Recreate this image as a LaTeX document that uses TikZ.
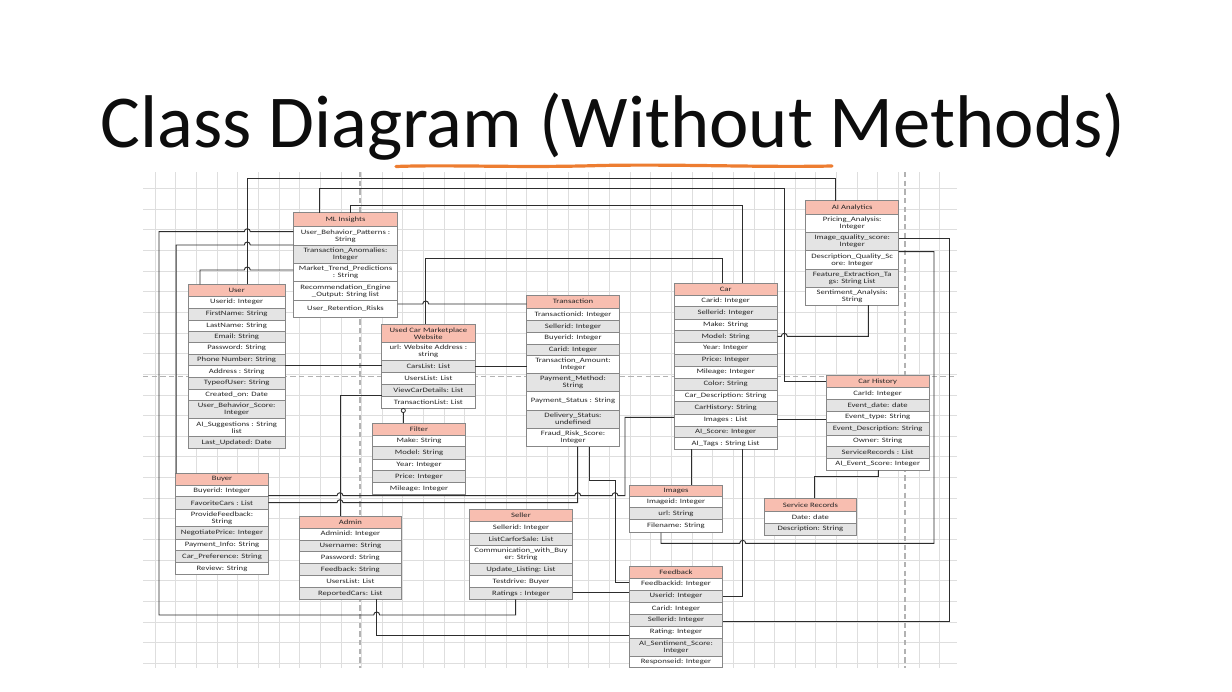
\documentclass[tikz,border=0pt]{standalone}
\usepackage{fontspec}
\setmainfont{Carlito}
\newfontfamily\boxfont[FakeStretch=1.3]{Carlito}
\definecolor{hdr}{RGB}{248,190,176}
\definecolor{grow}{RGB}{228,228,228}
\definecolor{bord}{RGB}{135,135,135}
\definecolor{ln}{RGB}{45,45,45}
\definecolor{gridc}{RGB}{222,222,222}
\definecolor{orng}{RGB}{237,125,49}
\tikzset{
  rowbox/.style={draw=bord,line width=0.45pt,inner sep=0pt,outer sep=0pt,align=center,
    font=\boxfont\fontsize{5}{5.3}\selectfont,text=black!85},
  conn/.style={draw=ln,line width=0.7pt},
  gridline/.style={draw=gridc,line width=0.5pt},
  pagebreak/.style={draw=black!30,line width=0.8pt,dash pattern=on 4pt off 2.5pt},
}
\newcommand{\rw}[7]{\node[rowbox,fill=#6,minimum width={(#3-#2)*0.75pt},minimum height={(#5-#4)*0.75pt}] (#1) at ({(#2+#3)/2},{(#4+#5)/2}) {#7};}
\begin{document}
\begin{tikzpicture}[x=0.75pt,y=-0.75pt]
\fill[white] (0,0) rectangle (1232,692);
\useasboundingbox (0,0) rectangle (1232,692);
% title
\node[font=\fontsize{56}{60}\selectfont,anchor=base,inner sep=0pt,text=black!95] (title) at (613,147) {Class Diagram (Without Methods)};
\draw[orng,line width=2.4pt,line cap=round] (396,166.5) .. controls (450,164.5) and (520,168) .. (600,165.5) .. controls (680,164) and (760,167.5) .. (832,166);
% grid
\begin{scope}
\clip (143,172) rectangle (957,668);
\foreach \k in {0,...,38} \draw[gridline] ({155+20.65*\k},172) -- ({155+20.65*\k},668);
\foreach \k in {0,...,24} \draw[gridline] (143,{663.3-20.65*\k}) -- (957,{663.3-20.65*\k});
\end{scope}
\draw[pagebreak] (360,172) -- (360,668);
\draw[pagebreak] (905,172) -- (905,668);
\draw[pagebreak] (143,376.5) -- (957,376.5);

% ML Insights
\def\xa{293.3}\def\xb{397.7}
\rw{mli}{\xa}{\xb}{212.7}{226.7}{hdr}{ML Insights}
\rw{mli1}{\xa}{\xb}{226.7}{245.3}{white}{User\_Behavior\_Patterns :\\String}
\rw{mli2}{\xa}{\xb}{245.3}{263.3}{grow}{Transaction\_Anomalies:\\Integer}
\rw{mli3}{\xa}{\xb}{263.3}{281.7}{white}{Market\_Trend\_Predictions\\: String}
\rw{mli4}{\xa}{\xb}{281.7}{300}{white}{Recommendation\_Engine\\\_Output: String list}
\rw{mli5}{\xa}{\xb}{300}{317.7}{white}{User\_Retention\_Risks}
% User
\def\xa{188.3}\def\xb{285}
\rw{usr}{\xa}{\xb}{284.3}{296}{hdr}{User}
\rw{usr1}{\xa}{\xb}{296}{308}{white}{Userid: Integer}
\rw{usr2}{\xa}{\xb}{308}{320}{grow}{FirstName: String}
\rw{usr3}{\xa}{\xb}{320}{331.7}{white}{LastName: String}
\rw{usr4}{\xa}{\xb}{331.7}{342.3}{grow}{Email: String}
\rw{usr5}{\xa}{\xb}{342.3}{354}{white}{Password: String}
\rw{usr6}{\xa}{\xb}{354}{365.7}{grow}{Phone Number: String}
\rw{usr7}{\xa}{\xb}{365.7}{377.3}{white}{Address : String}
\rw{usr8}{\xa}{\xb}{377.3}{389}{grow}{TypeofUser: String}
\rw{usr9}{\xa}{\xb}{389}{400.7}{white}{Created\_on: Date}
\rw{usr10}{\xa}{\xb}{400.7}{418.3}{grow}{User\_Behavior\_Score:\\Integer}
\rw{usr11}{\xa}{\xb}{418.3}{436.7}{white}{AI\_Suggestions : String\\list}
\rw{usr12}{\xa}{\xb}{436.7}{448.3}{grow}{Last\_Updated: Date}
% Website
\def\xa{381.7}\def\xb{475}
\rw{web}{\xa}{\xb}{324.3}{342.3}{hdr}{Used Car Marketplace\\Website}
\rw{web1}{\xa}{\xb}{342.3}{360.7}{white}{url: Website Address :\\string}
\rw{web2}{\xa}{\xb}{360.7}{372.7}{grow}{CarsList: List}
\rw{web3}{\xa}{\xb}{372.7}{384.3}{white}{UsersList: List}
\rw{web4}{\xa}{\xb}{384.3}{396}{grow}{ViewCarDetails: List}
\rw{web5}{\xa}{\xb}{396}{408.3}{white}{TransactionList: List}
% Filter
\def\xa{372.3}\def\xb{465.7}
\rw{flt}{\xa}{\xb}{423.3}{435}{hdr}{Filter}
\rw{flt1}{\xa}{\xb}{435}{446.7}{white}{Make: String}
\rw{flt2}{\xa}{\xb}{446.7}{459}{grow}{Model: String}
\rw{flt3}{\xa}{\xb}{459}{470.7}{white}{Year: Integer}
\rw{flt4}{\xa}{\xb}{470.7}{482.7}{grow}{Price: Integer}
\rw{flt5}{\xa}{\xb}{482.7}{494.3}{white}{Mileage: Integer}
% Transaction
\def\xa{526.7}\def\xb{619.3}
\rw{trn}{\xa}{\xb}{295}{308.3}{hdr}{Transaction}
\rw{trn1}{\xa}{\xb}{308.3}{320.7}{white}{Transactionid: Integer}
\rw{trn2}{\xa}{\xb}{320.7}{332.3}{grow}{Sellerid: Integer}
\rw{trn3}{\xa}{\xb}{332.3}{344}{white}{Buyerid: Integer}
\rw{trn4}{\xa}{\xb}{344}{355}{grow}{Carid: Integer}
\rw{trn5}{\xa}{\xb}{355}{373.3}{white}{Transaction\_Amount:\\Integer}
\rw{trn6}{\xa}{\xb}{373.3}{391.7}{grow}{Payment\_Method:\\String}
\rw{trn7}{\xa}{\xb}{391.7}{410}{white}{Payment\_Status : String}
\rw{trn8}{\xa}{\xb}{410}{428.3}{grow}{Delivery\_Status:\\undefined}
\rw{trn9}{\xa}{\xb}{428.3}{446.7}{white}{Fraud\_Risk\_Score:\\Integer}
% Car
\def\xa{674}\def\xb{777.3}
\rw{car}{\xa}{\xb}{283.3}{295}{hdr}{Car}
\rw{car1}{\xa}{\xb}{295}{306.7}{white}{Carid: Integer}
\rw{car2}{\xa}{\xb}{306.7}{319}{grow}{Sellerid: Integer}
\rw{car3}{\xa}{\xb}{319}{330.7}{white}{Make: String}
\rw{car4}{\xa}{\xb}{330.7}{342.3}{grow}{Model: String}
\rw{car5}{\xa}{\xb}{342.3}{354}{white}{Year: Integer}
\rw{car6}{\xa}{\xb}{354}{366}{grow}{Price: Integer}
\rw{car7}{\xa}{\xb}{366}{378.3}{white}{Mileage: Integer}
\rw{car8}{\xa}{\xb}{378.3}{390}{grow}{Color: String}
\rw{car9}{\xa}{\xb}{390}{401.7}{white}{Car\_Description: String}
\rw{car10}{\xa}{\xb}{401.7}{414}{grow}{CarHistory: String}
\rw{car11}{\xa}{\xb}{414}{426}{white}{Images : List}
\rw{car12}{\xa}{\xb}{426}{437.7}{grow}{AI\_Score: Integer}
\rw{car13}{\xa}{\xb}{437.7}{449.3}{white}{AI\_Tags : String List}
% AI Analytics
\def\xa{805.7}\def\xb{898.7}
\rw{aia}{\xa}{\xb}{200.7}{214}{hdr}{AI Analytics}
\rw{aia1}{\xa}{\xb}{214}{232.3}{white}{Pricing\_Analysis:\\Integer}
\rw{aia2}{\xa}{\xb}{232.3}{250.7}{grow}{Image\_quality\_score:\\Integer}
\rw{aia3}{\xa}{\xb}{250.7}{269}{white}{Description\_Quality\_Sc\\ore: Integer}
\rw{aia4}{\xa}{\xb}{269}{287.3}{grow}{Feature\_Extraction\_Ta\\gs: String List}
\rw{aia5}{\xa}{\xb}{287.3}{305}{white}{Sentiment\_Analysis:\\String}
% Car History
\def\xa{826}\def\xb{929.3}
\rw{chs}{\xa}{\xb}{375.7}{387.3}{hdr}{Car History}
\rw{chs1}{\xa}{\xb}{387.3}{399.3}{white}{CarId: Integer}
\rw{chs2}{\xa}{\xb}{399.3}{411}{grow}{Event\_date: date}
\rw{chs3}{\xa}{\xb}{411}{422.7}{white}{Event\_type: String}
\rw{chs4}{\xa}{\xb}{422.7}{435}{grow}{Event\_Description: String}
\rw{chs5}{\xa}{\xb}{435}{446.7}{white}{Owner: String}
\rw{chs6}{\xa}{\xb}{446.7}{458.3}{grow}{ServiceRecords : List}
\rw{chs7}{\xa}{\xb}{458.3}{470}{white}{AI\_Event\_Score: Integer}
% Images
\def\xa{629.3}\def\xb{722.7}
\rw{img}{\xa}{\xb}{485}{496}{hdr}{Images}
\rw{img1}{\xa}{\xb}{496}{507.7}{white}{Imageid: Integer}
\rw{img2}{\xa}{\xb}{507.7}{519.3}{grow}{url: String}
\rw{img3}{\xa}{\xb}{519.3}{532.7}{white}{Filename: String}
% Service Records
\def\xa{764}\def\xb{856.7}
\rw{svr}{\xa}{\xb}{498.3}{511.7}{hdr}{Service Records}
\rw{svr1}{\xa}{\xb}{511.7}{523.3}{white}{Date: date}
\rw{svr2}{\xa}{\xb}{523.3}{535}{grow}{Description: String}
% Feedback
\def\xa{629.3}\def\xb{722.7}
\rw{fdb}{\xa}{\xb}{566.7}{578.3}{hdr}{Feedback}
\rw{fdb1}{\xa}{\xb}{578.3}{590}{white}{Feedbackid: Integer}
\rw{fdb2}{\xa}{\xb}{590}{602.3}{grow}{Userid: Integer}
\rw{fdb3}{\xa}{\xb}{602.3}{614.3}{white}{Carid: Integer}
\rw{fdb4}{\xa}{\xb}{614.3}{626}{grow}{Sellerid: Integer}
\rw{fdb5}{\xa}{\xb}{626}{638.3}{white}{Rating: Integer}
\rw{fdb6}{\xa}{\xb}{638.3}{656}{grow}{AI\_Sentiment\_Score:\\Integer}
\rw{fdb7}{\xa}{\xb}{656}{667.7}{white}{Responseid: Integer}
% Seller
\def\xa{469.3}\def\xb{572.7}
\rw{slr}{\xa}{\xb}{509.3}{521.7}{hdr}{Seller}
\rw{slr1}{\xa}{\xb}{521.7}{533.3}{white}{Sellerid: Integer}
\rw{slr2}{\xa}{\xb}{533.3}{545}{grow}{ListCarforSale: List}
\rw{slr3}{\xa}{\xb}{545}{563.3}{white}{Communication\_with\_Buy\\er: String}
\rw{slr4}{\xa}{\xb}{563.3}{575.7}{grow}{Update\_Listing: List}
\rw{slr5}{\xa}{\xb}{575.7}{587.3}{white}{Testdrive: Buyer}
\rw{slr6}{\xa}{\xb}{587.3}{599.3}{grow}{Ratings : Integer}
% Admin
\def\xa{299}\def\xb{401.7}
\rw{adm}{\xa}{\xb}{516}{528.3}{hdr}{Admin}
\rw{adm1}{\xa}{\xb}{528.3}{540}{white}{Adminid: Integer}
\rw{adm2}{\xa}{\xb}{540}{551.7}{grow}{Username: String}
\rw{adm3}{\xa}{\xb}{551.7}{563.3}{white}{Password: String}
\rw{adm4}{\xa}{\xb}{563.3}{575.7}{grow}{Feedback: String}
\rw{adm5}{\xa}{\xb}{575.7}{587.3}{white}{UsersList: List}
\rw{adm6}{\xa}{\xb}{587.3}{599.3}{grow}{ReportedCars: List}
% Buyer
\def\xa{175.7}\def\xb{268.3}
\rw{buy}{\xa}{\xb}{473.3}{485}{hdr}{Buyer}
\rw{buy1}{\xa}{\xb}{485}{496.7}{white}{Buyerid: Integer}
\rw{buy2}{\xa}{\xb}{496.7}{509}{grow}{FavoriteCars : List}
\rw{buy3}{\xa}{\xb}{509}{526.7}{white}{ProvideFeedback:\\String}
\rw{buy4}{\xa}{\xb}{526.7}{539}{grow}{NegotiatePrice: Integer}
\rw{buy5}{\xa}{\xb}{539}{550.7}{white}{Payment\_Info: String}
\rw{buy6}{\xa}{\xb}{550.7}{562.3}{grow}{Car\_Preference: String}
\rw{buy7}{\xa}{\xb}{562.3}{574.3}{white}{Review: String}

% connectors
\draw[conn] (usr.north -| 247.3,0) -- (247.3,178.7) -| (aia.north -| 835.7,0);
\draw[conn] (mli.north -| 319.3,0) -- (319.3,188.3) -| (784.3,381.5) -- (chs.west |- 0,381.5);
\draw[conn] (mli.north -| 350,0) -- (350,205) -| (car.north -| 742.7,0);
\draw[conn] (web.north -| 425.7,0) -- (425.7,258.3) -| (car.north -| 722.3,0);
\draw[conn] (mli1.west |- 0,231.7) -- (250.3,231.7) arc[start angle=0,end angle=-180,radius=3] -- (159,231.7) -- (159,615) -- (373.7,615) arc[start angle=180,end angle=360,radius=3] -| (slr6.south -| 515.7,0);
\draw[conn] (mli1.west |- 0,245) -- (250.3,245) arc[start angle=0,end angle=-180,radius=3] -- (176.2,245) -- (buy.north -| 176.2,0);
\draw[conn] (mli3.west |- 0,270) -- (250.3,270) arc[start angle=0,end angle=-180,radius=3] -- (200,270) -- (usr.north -| 200,0);
\draw[conn] (mli5.east |- 0,304) -- (422.7,304) arc[start angle=180,end angle=360,radius=3] -- (trn.west |- 0,304);
\draw[conn] (usr6.east |- 0,365.7) -- (web2.west |- 0,365.7);
\draw[conn] (web2.east |- 0,366.7) -- (trn5.west |- 0,366.7);
\draw[conn] (web4.west |- 0,395.7) -| (adm.north -| 340,0);
\draw[conn] (trn9.south -| 577.7,0) -- (577.7,502.7) -- (343,502.7) arc[start angle=0,end angle=-180,radius=3] -- (buy2.east |- 0,502.7);
\draw[conn] (trn9.south -| 589.3,0) -- (589.3,480) -| (615,582.7) -- (fdb1.west |- 0,582.7);
\draw[conn] (buy1.east |- 0,495.7) -- (337,495.7) arc[start angle=180,end angle=360,radius=3] -- (574.7,495.7) arc[start angle=180,end angle=360,radius=3] -- (612,495.7) arc[start angle=180,end angle=360,radius=3] -- (625,495.7) -- (625,417.3) -- (car11.west |- 0,417.3);
\draw[conn] (car13.south -| 691.7,0) -- (img.north -| 691.7,0);
\draw[conn] (car13.south -| 742.7,0) |- (fdb2.east |- 0,596);
\draw[conn] (img3.south -| 661,0) -- (661,543.3) -- (739.7,543.3) arc[start angle=180,end angle=360,radius=3] -- (934,543.3) |- (aia3.east |- 0,251.7);
\draw[conn] (fdb4.east |- 0,621.7) -- (949.3,621.7) |- (aia2.east |- 0,238.3);
\draw[conn] (chs7.south -| 878.3,0) -- (878.3,476) -| (svr.north -| 814.7,0);
\draw[conn] (car11.east |- 0,419) -- (chs3.west |- 0,419);
\draw[conn] (car4.east |- 0,336.3) -- (781.3,336.3) arc[start angle=180,end angle=360,radius=3] -| (aia5.south -| 868.3,0);
\draw[conn] (adm6.south -| 376.7,0) |- (fdb5.west |- 0,635);
\draw[conn] (slr6.east |- 0,592.7) -- (fdb2.west |- 0,592.7);
\coordinate (aggr) at (403.3,410.5);
\draw[conn] (flt.north -| 403.3,0) -- (aggr);
\draw[conn,fill=white,line width=0.6pt] (aggr) circle[radius=2.1];
\end{tikzpicture}
\end{document}
